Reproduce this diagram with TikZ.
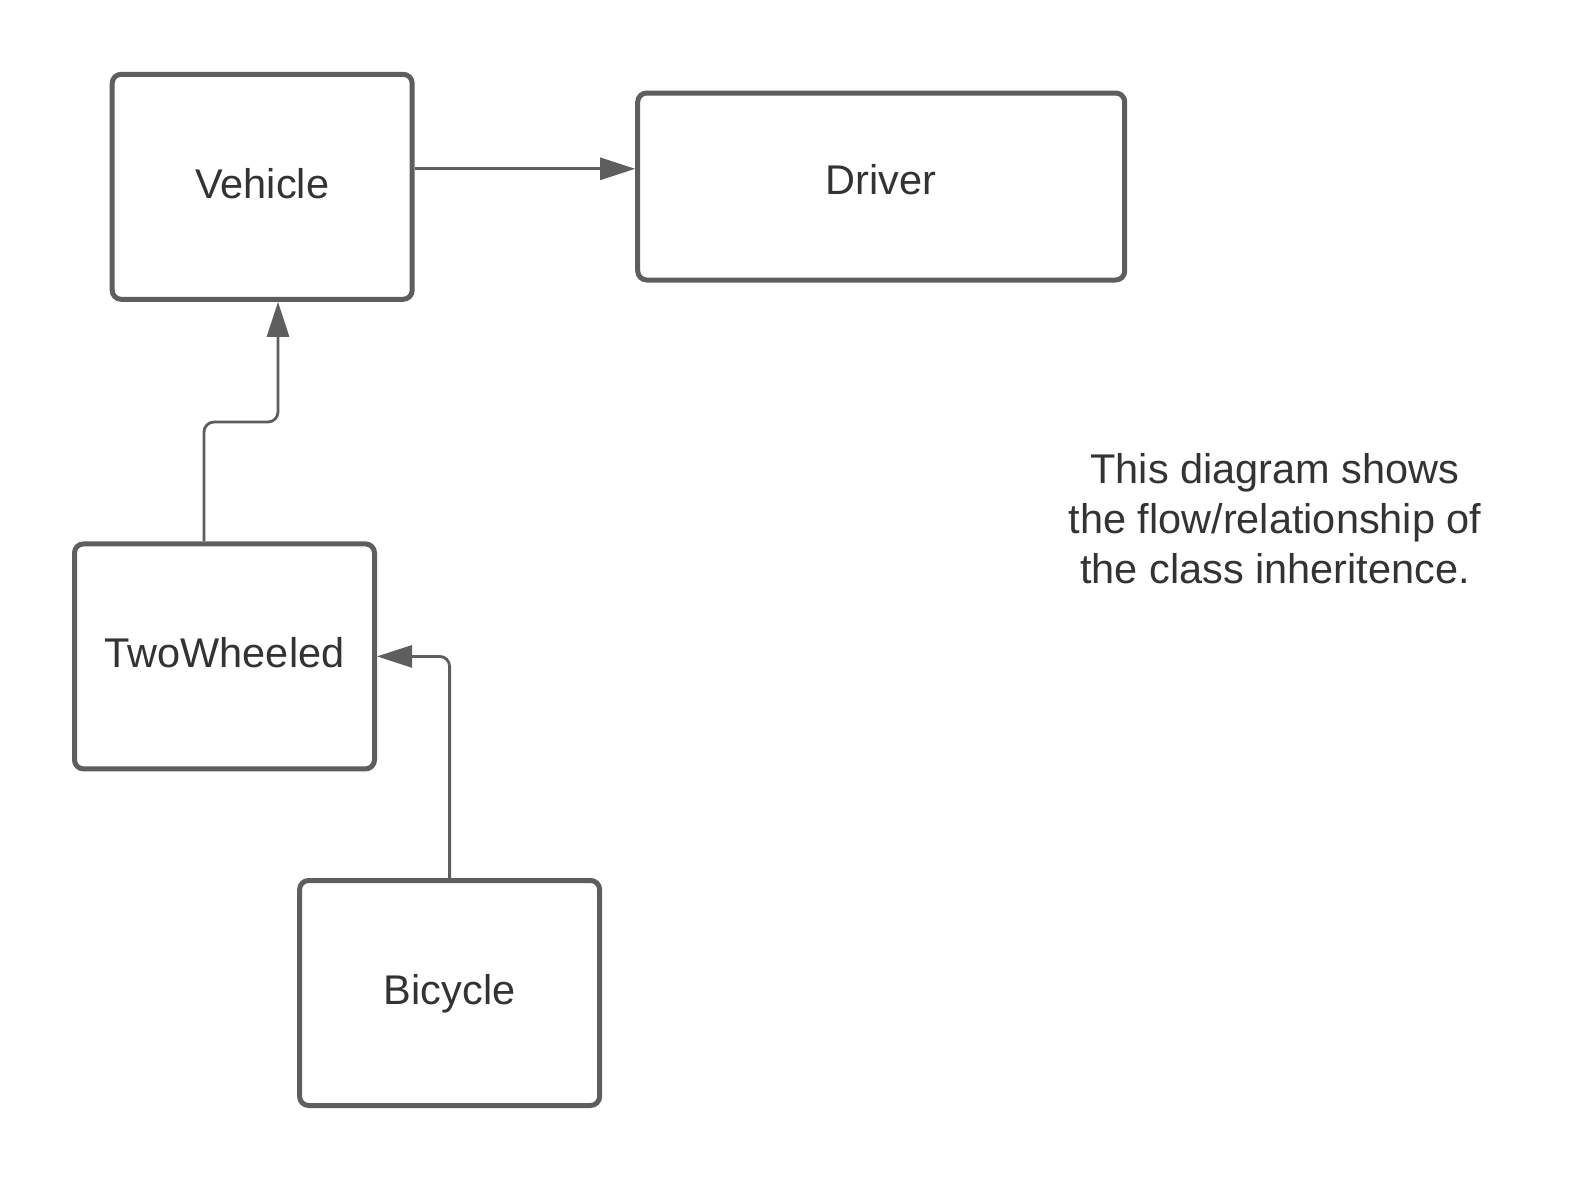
\documentclass[tikz,border=0pt]{standalone}
\usepackage{fontspec}
\setmainfont{Liberation Sans}
\usetikzlibrary{arrows.meta}
\definecolor{edge}{HTML}{5E5E5E}
\definecolor{txt}{HTML}{333333}
\begin{document}
\begin{tikzpicture}[x=1pt,y=-1pt,
  box/.style={draw=edge, line width=5pt, rounded corners=9pt, fill=white, inner sep=0pt},
  lbl/.style={text=txt, font=\fontsize{41.5}{50}\selectfont, inner sep=0pt, align=center},
  conn/.style={draw=edge, line width=2.8pt, -{Triangle[length=35pt,width=22pt]}, rounded corners=10pt}]
\useasboundingbox[fill=white] (0,0) rectangle (1575,1181);
\node[box, minimum width=300pt, minimum height=225pt] (vehicle) at (262.2,186.8) {};
\node[box, minimum width=487pt, minimum height=187pt] (driver) at (881.2,186.5) {};
\node[box, minimum width=300pt, minimum height=225pt] (tw) at (224.5,656.4) {};
\node[box, minimum width=300pt, minimum height=225pt] (bike) at (449.6,993) {};
\node[lbl, anchor=base] (vehicleL) at (262.2,198.5) {Vehicle};
\node[lbl, anchor=base] (driverL) at (881,194.3) {Driver};
\node[lbl, anchor=base] (twL) at (224.5,667.5) {TwoWheeled};
\node[lbl, anchor=base] (bikeL) at (449.6,1004) {Bicycle};
\node[lbl] (note) at (1275,519) {This diagram shows\\the flow/relationship of\\the class inheritence.};
\coordinate (bend) at (278,422);
\draw[conn] ([yshift=18pt]vehicle.east) -- ([yshift=18pt]vehicle.east -| driver.west);
\draw[conn] ([xshift=-20.5pt]tw.north) |- (bend) -- (bend |- vehicle.south);
\draw[conn] (bike.north) |- (tw.east);
\end{tikzpicture}
\end{document}
